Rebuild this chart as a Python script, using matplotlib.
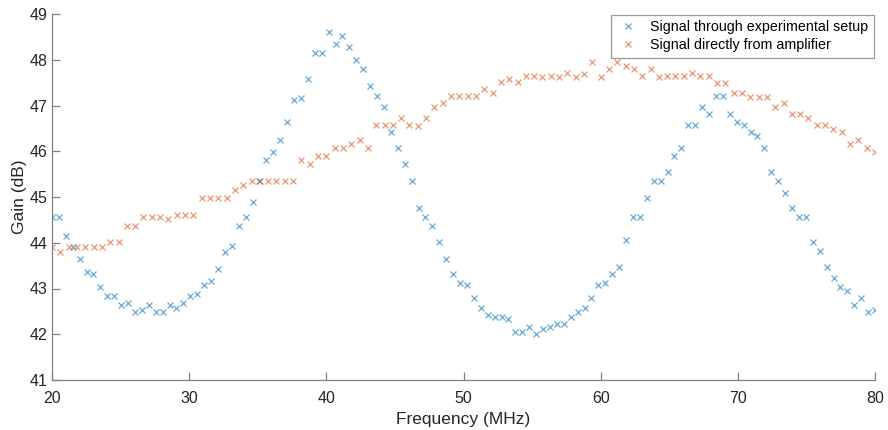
import numpy as np
import matplotlib
matplotlib.use("Agg")
import matplotlib.pyplot as plt

plt.rcParams['font.family'] = ['Liberation Sans', 'DejaVu Sans']

# blue: 120 points, linspace 20-80 MHz
freq_setup = np.linspace(20, 80, 120)
gain_setup = [
    44.57, 44.57, 44.15, 43.91, 43.64, 43.37, 43.31, 43.03, 42.84, 42.84,
    42.63, 42.68, 42.48, 42.53, 42.63, 42.48, 42.48, 42.63, 42.58, 42.68,
    42.84, 42.88, 43.08, 43.17, 43.42, 43.80, 43.93, 44.37, 44.57, 44.88,
    45.35, 45.81, 45.98, 46.25, 46.65, 47.13, 47.17, 47.57, 48.14, 48.14,
    48.60, 48.34, 48.53, 48.27, 47.99, 47.79, 47.43, 47.20, 46.97, 46.41,
    46.07, 45.73, 45.35, 44.77, 44.57, 44.37, 44.02, 43.64, 43.32, 43.12,
    43.08, 42.79, 42.58, 42.42, 42.38, 42.38, 42.33, 42.04, 42.04, 42.16,
    42.00, 42.11, 42.16, 42.22, 42.22, 42.38, 42.48, 42.58, 42.79, 43.08,
    43.12, 43.32, 43.46, 44.06, 44.57, 44.57, 44.98, 45.35, 45.35, 45.54,
    45.90, 46.07, 46.57, 46.57, 46.97, 46.81, 47.20, 47.20, 46.81, 46.65,
    46.57, 46.41, 46.33, 46.07, 45.54, 45.35, 45.08, 44.77, 44.57, 44.57,
    44.02, 43.82, 43.46, 43.24, 43.03, 42.95, 42.64, 42.79, 42.48, 42.54,
]

# orange: 100 points, linspace 20-80 MHz
freq_amp = np.linspace(20, 80, 100)
gain_amp = [
    43.91, 43.80, 43.91, 43.91, 43.91, 43.91, 43.91, 44.02, 44.02, 44.37,
    44.37, 44.57, 44.57, 44.57, 44.53, 44.60, 44.60, 44.60, 44.98, 44.98,
    44.98, 44.98, 45.15, 45.26, 45.35, 45.35, 45.35, 45.36, 45.35, 45.34,
    45.81, 45.73, 45.90, 45.90, 46.07, 46.07, 46.16, 46.25, 46.07, 46.57,
    46.57, 46.57, 46.73, 46.57, 46.56, 46.73, 46.97, 47.05, 47.20, 47.20,
    47.20, 47.20, 47.35, 47.27, 47.51, 47.57, 47.51, 47.64, 47.64, 47.62,
    47.64, 47.62, 47.72, 47.62, 47.69, 47.94, 47.62, 47.79, 47.94, 47.86,
    47.79, 47.64, 47.79, 47.62, 47.64, 47.64, 47.64, 47.72, 47.64, 47.64,
    47.50, 47.50, 47.27, 47.27, 47.19, 47.19, 47.19, 46.97, 47.05, 46.81,
    46.81, 46.73, 46.57, 46.57, 46.48, 46.41, 46.16, 46.25, 46.07, 45.99,
]

fig = plt.figure(figsize=(8.88, 4.30), dpi=100)
ax = fig.add_axes([52 / 888, 50 / 430, 823 / 888, 366 / 430])

ax.plot(freq_setup, gain_setup, linestyle="none", marker="x", markersize=4.5,
        markeredgewidth=0.9, color="#0072BD", alpha=0.6,
        label="Signal through experimental setup")
ax.plot(freq_amp, gain_amp, linestyle="none", marker="x", markersize=4.5,
        markeredgewidth=0.9, color="#D95319", alpha=0.6,
        label="Signal directly from amplifier")

ax.set_xlim(20, 80)
ax.set_ylim(41, 49)
ax.set_xticks(range(20, 81, 10))
ax.set_yticks(range(41, 50))
ax.set_xlabel("Frequency (MHz)", fontsize=12.5, color="#262626", labelpad=4)
ax.set_ylabel("Gain (dB)", fontsize=12.5, color="#262626", labelpad=2)

for s in ["top", "right"]:
    ax.spines[s].set_visible(False)
for s in ["left", "bottom"]:
    ax.spines[s].set_color("#808080")
    ax.spines[s].set_linewidth(0.9)
ax.tick_params(direction="in", length=6, width=0.9, color="#808080",
               labelsize=11.5, labelcolor="#262626")
ax.tick_params(axis="x", pad=8)
ax.tick_params(axis="y", pad=3)

leg = ax.legend(loc="upper right", fontsize=10.3, frameon=True, fancybox=False,
                borderaxespad=0.0, handlelength=1.6, handletextpad=0.75,
                borderpad=0.4, labelspacing=0.25, bbox_to_anchor=(0.999, 0.998))
leg.get_frame().set_edgecolor("#808080")
leg.get_frame().set_linewidth(0.9)

fig.savefig("out.png", dpi=100)
